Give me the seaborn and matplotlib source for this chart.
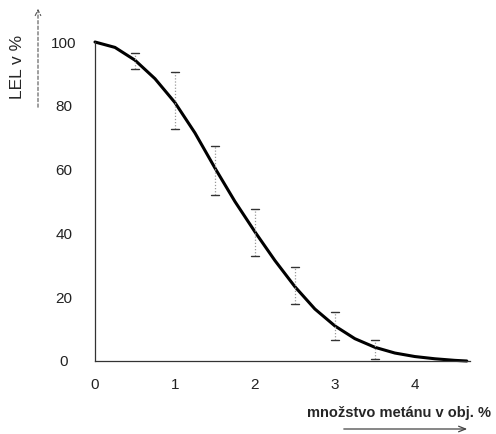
import matplotlib
matplotlib.use("Agg")
import matplotlib.pyplot as plt
import seaborn as sns
import pandas as pd

# Curve
curve_x = [0, 0.25, 0.5, 0.75, 1.0, 1.25, 1.5, 1.75, 2.0, 2.25, 2.5, 2.75, 3.0, 3.25, 3.5, 3.75, 4.0, 4.25, 4.5, 4.65]
curve_y = [100, 98.3, 94.3, 88.5, 81, 71.5, 60.5, 50, 40.5, 31.5, 23.3, 16.3, 11, 7, 4.3, 2.5, 1.4, 0.7, 0.2, 0]

# Error bars (measured ranges)
err_x = [0.5, 1.0, 1.5, 2.0, 2.5, 3.0, 3.5]
err_low = [91.6, 72.6, 52.0, 32.8, 18.0, 6.5, 0.6]
err_high = [96.6, 90.5, 67.3, 47.7, 29.6, 15.3, 6.5]

x_ticks = [0, 1, 2, 3, 4]
y_ticks = [0, 20, 40, 60, 80, 100]

sns.set_style("white")
plt.rcParams['font.family'] = ['Liberation Sans', 'DejaVu Sans']

fig = plt.figure(figsize=(4.96, 4.34), dpi=100)
ax = fig.add_axes([95/496, 1-361/434, (470-95)/496, (361-42)/434])

df = pd.DataFrame({"x": curve_x, "y": curve_y})
sns.lineplot(data=df, x="x", y="y", ax=ax, color="black", linewidth=2.2, clip_on=False)

for xv, lo, hi in zip(err_x, err_low, err_high):
    ax.plot([xv, xv], [lo, hi], color="#9a9a9a", linewidth=0.9, linestyle=(0, (1, 1.5)), clip_on=False)
    ax.plot([xv - 0.05, xv + 0.05], [lo, lo], color="#333333", linewidth=1.0, clip_on=False)
    ax.plot([xv - 0.05, xv + 0.05], [hi, hi], color="#333333", linewidth=1.0, clip_on=False)

ax.set_xlim(0, 4.69)
ax.set_ylim(0, 100)
ax.set_xticks(x_ticks)
ax.set_yticks(y_ticks)
ax.set_xticklabels([str(v) for v in x_ticks], fontsize=11)
ax.set_yticklabels([str(v) for v in y_ticks], fontsize=11)
for lab in ax.get_yticklabels():
    lab.set_horizontalalignment("center")
ax.tick_params(axis="y", direction="out", length=6.5, width=0.8, pad=16, colors="#222222")
ax.tick_params(axis="x", direction="out", length=4, width=0.8, pad=8, colors="#222222")
ax.set_xlabel("")
ax.set_ylabel("")

for s in ["top", "right"]:
    ax.spines[s].set_visible(False)
for s in ["left", "bottom"]:
    ax.spines[s].set_color("#333333")
    ax.spines[s].set_linewidth(0.9)

fig.text(18/496, 1-67/434, "LEL v %", rotation=90, ha="center", va="center", fontsize=12.5)
fig.text(399/496, 1-413/434, "množstvo metánu v obj. %", ha="center", va="center",
         fontsize=10.5, fontweight="bold")

# arrows
fig.add_artist(matplotlib.patches.FancyArrowPatch(
    (38/496, 1-110/434), (38/496, 1-6/434), transform=fig.transFigure,
    arrowstyle="->,head_length=4,head_width=2", color="#555555", linewidth=0.8,
    linestyle=(0, (3, 2))))
fig.add_artist(matplotlib.patches.FancyArrowPatch(
    (341/496, 1-429/434), (470/496, 1-429/434), transform=fig.transFigure,
    arrowstyle="->,head_length=5,head_width=2", color="#444444", linewidth=0.9))

fig.savefig("out.png", dpi=100)
